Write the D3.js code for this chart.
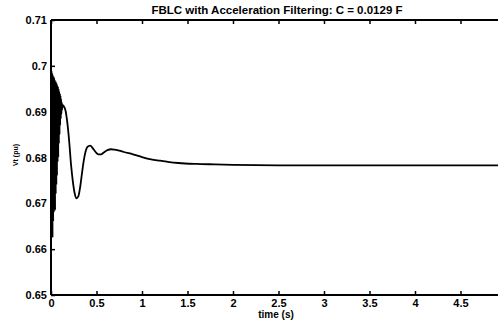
<!DOCTYPE html>
<meta charset="utf-8">
<html>
<head>
<style>
  body { margin: 0; background: #fff; }
  text { font-family: "Liberation Sans", Arial, sans-serif; font-weight: bold; fill: #000; }
</style>
</head>
<body>
<script src="https://cdn.jsdelivr.net/npm/d3@7"></script>
<script>
  // time (s) and terminal voltage Vt (pu)
  var time = [0.000,0.003,0.006,0.010,0.013,0.017,0.020,0.024,0.027,0.031,0.034,0.038,0.041,0.045,0.048,0.052,0.055,0.059,0.062,0.066,0.069,0.073,0.076,0.080,0.083,0.087,0.090,0.094,0.097,0.101,0.104,0.108,0.111,0.115,0.118,0.122,0.126,
    0.14,0.16,0.18,0.20,0.22,0.24,0.26,0.28,0.30,0.32,0.34,0.36,0.38,0.40,0.43,0.46,0.49,0.52,0.55,0.58,0.62,0.66,0.70,0.75,0.80,0.90,1.00,1.10,1.20,1.30,1.40,1.60,1.80,2.00,2.50,3.00,4.00,5.00];
  var vt = [0.7015,0.6700,0.6990,0.6640,0.6985,0.6625,0.6980,0.6660,0.6978,0.6680,0.6975,0.6690,0.6970,0.6685,0.6968,0.6720,0.6965,0.6740,0.6962,0.6760,0.6958,0.6790,0.6955,0.6800,0.6950,0.6830,0.6945,0.6850,0.6940,0.6870,0.6935,0.6885,0.6928,0.6895,0.6920,0.6905,0.6915,
    0.6912,0.6902,0.6875,0.6835,0.6785,0.6748,0.6722,0.6711,0.6715,0.6735,0.6765,0.6793,0.6813,0.6823,0.6826,0.6820,0.6812,0.6807,0.6807,0.6811,0.6816,0.6818,0.6817,0.6815,0.6812,0.6807,0.6801,0.6796,0.6793,0.6790,0.6788,0.6786,0.6785,0.6784,0.6783,0.6783,0.6783,0.6783];

  var xTicks = [0,0.5,1,1.5,2,2.5,3,3.5,4,4.5];
  var yTicks = [0.65,0.66,0.67,0.68,0.69,0.70,0.71];
  var yTickLabels = ["0.65","0.66","0.67","0.68","0.69","0.7","0.71"];

  var W = 498, H = 322;
  var svg = d3.select("body").append("svg").attr("width", W).attr("height", H);

  var x = d3.scaleLinear().domain([0, 5]).range([51, 506]);
  var y = d3.scaleLinear().domain([0.65, 0.71]).range([295, 20]);

  // axes box (right side falls off the page)
  svg.append("line").attr("x1", 51).attr("x2", 506).attr("y1", y(0.71)).attr("y2", y(0.71))
    .attr("stroke", "#000").attr("stroke-width", 2);
  svg.append("line").attr("x1", 51).attr("x2", 506).attr("y1", y(0.65)).attr("y2", y(0.65))
    .attr("stroke", "#000").attr("stroke-width", 2);
  svg.append("line").attr("x1", 51).attr("x2", 51).attr("y1", y(0.71)).attr("y2", y(0.65))
    .attr("stroke", "#000").attr("stroke-width", 2);

  // bottom axis, ticks inward
  var xb = svg.append("g").attr("transform", "translate(0," + y(0.65) + ")")
    .call(d3.axisBottom(x).tickValues(xTicks).tickSize(-4).tickPadding(4).tickFormat(d3.format("")));
  xb.select(".domain").remove();
  xb.selectAll("text").style("font-size", "11px");
  xb.selectAll("line").attr("stroke-width", 1.5);

  // top axis ticks
  var xt = svg.append("g").attr("transform", "translate(0," + y(0.71) + ")")
    .call(d3.axisTop(x).tickValues(xTicks).tickSize(-4).tickFormat(""));
  xt.select(".domain").remove();
  xt.selectAll("line").attr("stroke-width", 1.5);

  // left axis, ticks inward
  var yl = svg.append("g").attr("transform", "translate(51,0)")
    .call(d3.axisLeft(y).tickValues(yTicks).tickSize(-4).tickPadding(4)
      .tickFormat(function(d, i) { return yTickLabels[i]; }));
  yl.select(".domain").remove();
  yl.selectAll("text").style("font-size", "11px");
  yl.selectAll("line").attr("stroke-width", 1.5);

  // curve
  var pts = time.map(function(t, i) { return [t, vt[i]]; });
  svg.append("path")
    .datum(pts)
    .attr("fill", "none")
    .attr("stroke", "#000")
    .attr("stroke-width", 1.8)
    .attr("stroke-linejoin", "round")
    .attr("d", d3.line().x(function(d) { return x(d[0]); }).y(function(d) { return y(d[1]); }).curve(d3.curveMonotoneX));

  // labels
  svg.append("text").attr("x", 277).attr("y", 14).attr("text-anchor", "middle")
    .style("font-size", "11.5px").text("FBLC with Acceleration Filtering: C = 0.0129 F");
  svg.append("text").attr("x", 276).attr("y", 318).attr("text-anchor", "middle")
    .style("font-size", "10px").text("time (s)");
  svg.append("text").attr("transform", "translate(18,155) rotate(-90)").attr("text-anchor", "middle")
    .style("font-size", "7px").text("Vt (pu)");
</script>
</body>
</html>
